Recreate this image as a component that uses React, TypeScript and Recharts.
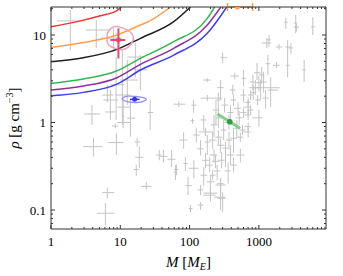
import React from 'react';
import { ComposedChart, XAxis, YAxis, Scatter, Line, ErrorBar, Label } from 'recharts';

// ---- axes ----
const massDomain: [number, number] = [1, 9300];
const rhoDomain: [number, number] = [0.0607, 20.9];
const massMajorTicks = [1, 10, 100, 1000];
const massMinorTicks = [2, 3, 4, 5, 6, 7, 8, 9, 20, 30, 40, 50, 60, 70, 80, 90, 200, 300, 400, 500, 600, 700, 800, 900, 2000, 3000, 4000, 5000, 6000, 7000, 8000, 9000];
const rhoMajorTicks = [0.1, 1, 10];
const rhoMinorTicks = [0.07, 0.08, 0.09, 0.2, 0.3, 0.4, 0.5, 0.6, 0.7, 0.8, 0.9, 2, 3, 4, 5, 6, 7, 8, 9, 20];

// ---- composition curves (mass, density) ----
const redMass = [1, 2.94, 5, 8.96, 10.3];
const redRho = [12.4, 14.8, 16.5, 19.0, 20.9];
const orangeMass = [1, 2.94, 8.96, 19.5, 27.2, 53];
const orangeRho = [7.2, 8.2, 10, 13.0, 14.6, 20.9];
const blackMass = [1, 2.94, 8.96, 19.5, 59, 103];
const blackRho = [4.95, 5.5, 6.85, 9.17, 14.2, 20.9];
const greenMass = [1, 2.94, 8.96, 19.5, 59, 180, 230];
const greenRho = [2.8, 3.14, 3.9, 5.41, 8.38, 15.5, 20.9];
const purpleMass = [1, 2.94, 8.96, 19.5, 59, 180, 282];
const purpleRho = [2.35, 2.61, 3.25, 4.62, 7.05, 13.0, 20.9];
const blueMass = [1, 2.94, 8.96, 19.5, 59, 180, 344];
const blueRho = [2.02, 2.21, 2.75, 3.98, 5.9, 10.45, 20.9];

// ---- known planets: [M, Mlo, Mhi, rho, rhoLo, rhoHi] ----
const grayPoints: [number, number, number, number, number, number][] = [
  [1.9, 1.22, 3.1, 14.5, 6.7, 19.3],
  [4.5, 3.2, 7.2, 11.4, 7.1, 14.8],
  [8.0, 5.1, 10.7, 9.2, 6.4, 12],
  [8.7, 7.2, 11.4, 2.7, 1.07, 5.6],
  [10.7, 8.5, 14, 2.06, 0.94, 6.7],
  [12.6, 10, 18, 3.06, 1.58, 5.2],
  [16.5, 12.6, 21.6, 5.6, 3.3, 8.1],
  [19.5, 15.5, 24.6, 4.0, 2.35, 5.9],
  [6.5, 5.5, 7.9, 2.06, 1.7, 2.7],
  [7.2, 5.7, 9.3, 1.81, 1.39, 2.35],
  [11, 9.1, 14, 1.5, 1.13, 1.9],
  [3.9, 3.0, 5.1, 1.25, 0.94, 1.58],
  [7.2, 6.1, 8.5, 1.32, 1.07, 1.58],
  [8.5, 7.6, 9.3, 0.91, 0.86, 0.97],
  [11, 9.1, 14, 1.0, 0.86, 1.22],
  [14, 12.6, 16.5, 1.12, 0.69, 1.81],
  [4.1, 2.9, 5.5, 0.53, 0.41, 0.67],
  [8.8, 6.7, 11, 0.59, 0.425, 0.75],
  [17.5, 16, 19.5, 0.6, 0.53, 0.67],
  [18.8, 16.5, 21.6, 0.4, 0.3, 0.53],
  [17, 15.5, 18.8, 0.29, 0.245, 0.33],
  [23.7, 20, 28, 0.186, 0.17, 0.21],
  [6.5, 5.5, 8.2, 0.158, 0.135, 0.18],
  [6.1, 4.6, 8.2, 0.092, 0.067, 0.12],
  [27, 25, 30, 1.3, 0.82, 1.81],
  [36.5, 33, 40, 0.425, 0.37, 0.485],
  [42, 38, 48, 0.41, 0.35, 0.485],
  [55, 48, 62.5, 0.38, 0.31, 0.485],
  [62.5, 59, 66, 0.27, 0.22, 0.326],
  [70, 59, 87, 1.62, 1.5, 1.75],
  [114, 106, 126, 1.58, 1.3, 1.81],
  [110, 103, 117, 1.05, 0.97, 1.12],
  [82, 71, 93, 0.63, 0.5, 0.77],
  [87, 81, 93, 0.34, 0.28, 0.4],
  [65, 60, 69, 0.29, 0.25, 0.33],
  [95, 87, 108, 0.19, 0.148, 0.24],
  [103, 97, 110, 0.104, 0.095, 0.114],
  [144, 131, 158, 0.114, 0.1, 0.123],
  [200, 158, 237, 0.148, 0.125, 0.173],
  [280, 250, 330, 0.136, 0.1, 0.169],
  [280, 250, 310, 0.2, 0.175, 0.233],
  [300, 280, 350, 5.5, 4.8, 6.3],
  [450, 390, 520, 3.4, 3.1, 3.7],
  [180, 158, 205, 3.06, 2.9, 3.2],
  [600, 560, 660, 3.2, 2.6, 4.0],
  [820, 740, 900, 2.9, 2.35, 3.5],
  [1000, 900, 1100, 2.85, 2.25, 3.4],
  [1060, 720, 2000, 2.5, 1.8, 3.1],
  [420, 380, 460, 2.35, 2.06, 2.7],
  [280, 250, 310, 2.5, 1.81, 3.06],
  [180, 144, 290, 1.9, 1.75, 2.06],
  [260, 245, 280, 1.81, 1.39, 2.2],
  [700, 600, 760, 1.5, 1.22, 1.81],
  [1400, 1300, 1480, 8.8, 7.3, 10],
  [1300, 1100, 1480, 8.1, 7.1, 9.2],
  [2450, 2300, 2600, 14, 11.8, 15.7],
  [3400, 3200, 3600, 13.7, 10.5, 17],
  [3500, 3200, 3800, 12.3, 11, 13.3],
  [6000, 5600, 6400, 12.4, 10, 16],
  [1950, 1750, 2200, 7.3, 6.8, 7.9],
  [2600, 2400, 2850, 7.3, 5.9, 8.8],
  [2900, 2700, 3100, 7.1, 6.1, 8.1],
  [1800, 1600, 2000, 4.5, 4.2, 4.9],
  [2600, 2450, 2750, 4.5, 3.3, 6.2],
  [1350, 1250, 1450, 4.7, 3.5, 5.9],
  [4500, 4200, 4750, 4.0, 2.9, 5.2],
  [940, 850, 1060, 3.7, 3.06, 4.8],
  [1100, 1000, 1200, 3.5, 2.8, 4.3],
  [1480, 1350, 1900, 2.35, 1.5, 3.3],
  [960, 880, 1060, 1.81, 1.58, 2.06],
  [700, 620, 760, 1.7, 1.5, 1.9],
  [760, 690, 840, 1.39, 1.22, 1.58],
  [1000, 800, 1130, 1.13, 0.9, 1.39],
  [600, 540, 660, 1.3, 1.13, 1.45],
  [700, 620, 760, 0.9, 0.8, 1.0],
  [580, 520, 640, 0.82, 0.72, 0.94],
  [540, 490, 600, 0.68, 0.6, 0.77],
  [160, 144, 176, 1.07, 0.8, 1.22],
  [170, 135, 215, 0.78, 0.7, 0.87],
  [180, 165, 200, 0.6, 0.425, 0.72],
  [144, 128, 160, 0.5, 0.42, 0.63],
  [225, 200, 250, 0.94, 0.68, 1.22],
  [260, 235, 300, 0.68, 0.55, 0.82],
  [310, 280, 340, 0.82, 0.63, 1.07],
  [330, 300, 360, 0.51, 0.31, 0.6],
  [225, 195, 250, 0.425, 0.35, 0.5],
  [195, 170, 215, 0.326, 0.27, 0.4],
  [160, 144, 180, 0.25, 0.19, 0.31],
  [215, 195, 237, 0.25, 0.22, 0.29],
  [115, 97, 135, 0.3, 0.23, 0.37],
  [144, 130, 158, 0.17, 0.148, 0.193],
  [200, 158, 250, 0.156, 0.14, 0.17],
  [300, 225, 330, 0.14, 0.095, 0.16],
  [280, 237, 330, 0.193, 0.13, 0.23],
  [390, 350, 430, 1.3, 1.0, 1.58],
  [520, 460, 580, 1.13, 0.94, 1.35],
  [430, 390, 480, 0.66, 0.45, 0.86],
  [700, 600, 760, 0.78, 0.68, 0.88],
  [390, 340, 440, 0.425, 0.326, 0.55],
  [360, 320, 390, 0.28, 0.2, 0.35],
  [430, 390, 480, 0.326, 0.27, 0.4],
  [250, 225, 280, 0.28, 0.22, 0.326],
  [280, 250, 320, 0.55, 0.45, 0.66],
  [200, 175, 230, 0.21, 0.17, 0.25],
  [540, 470, 620, 0.425, 0.35, 0.5],
  [700, 620, 760, 1.22, 1.07, 1.39],
  [240, 215, 270, 1.39, 0.94, 1.81],
  [370, 320, 410, 1.0, 0.82, 1.22],
  [480, 420, 540, 0.86, 0.66, 1.07],
  [260, 237, 290, 1.13, 0.86, 1.39],
  [600, 540, 660, 2.06, 1.7, 2.4],
  [830, 760, 920, 2.2, 1.81, 2.68],
  [1170, 1060, 1300, 2.9, 2.2, 3.8],
  [890, 760, 1060, 2.5, 2.06, 3.06],
  [1250, 1130, 1380, 1.9, 1.45, 2.35],
  [760, 700, 820, 2.06, 1.81, 2.35],
  [370, 330, 410, 0.63, 0.485, 0.78],
  [215, 190, 245, 0.63, 0.5, 0.78],
  [125, 112, 140, 0.72, 0.59, 0.87],
  [170, 150, 190, 0.37, 0.3, 0.45],
  [237, 210, 270, 0.36, 0.3, 0.43],
  [290, 260, 320, 0.37, 0.3, 0.46],
  [500, 440, 550, 1.45, 1.2, 1.7],
  [320, 290, 360, 1.58, 1.3, 1.9],
  [430, 390, 470, 1.81, 1.55, 2.06],
];

// ---- highlighted planets ----
const pinkPlanet = [{ m: 9.4, mlo: 7.2, mhi: 11.8, r: 8.77, rlo: 5.4, rhi: 11.9 }];
const pinkContourMass = [6.42, 7.16, 8.47, 10.6, 12.5, 14.0, 16.0, 14.8, 13.2, 11.8, 10.0, 8.47, 7.16, 6.42, 6.42];
const pinkContourRho = [10.45, 11.9, 12.7, 12.2, 11.4, 10.9, 9.56, 8.04, 7.35, 6.87, 6.74, 7.05, 7.35, 8.04, 9.17];
const bluePlanet = [{ m: 16.1, mlo: 13.8, mhi: 19.0, r: 1.84, rlo: 1.76, rhi: 1.92 }];
const blueContourMass = [10.6, 13.1, 16.5, 20.8, 25.5, 20.8, 16.5, 13.1, 10.6];
const blueContourRho = [1.95, 2.02, 1.99, 1.95, 1.85, 1.72, 1.67, 1.71, 1.8];
const greenPlanet = [{ m: 380, r: 1.02 }];
const greenBandMass = [252, 536];
const greenBandRho = [1.25, 0.86];
const orangePlanet = [{ m: 490, mlo: 353, mhi: 811, r: 20.9 }];

const series = (m: number[], r: number[]) => m.map((v, i) => ({ m: v, r: r[i] }));
const grayTable = grayPoints.map(([m, mlo, mhi, r, rlo, rhi]) => ({ m, r, ex: [m - mlo, mhi - m], ey: [r - rlo, rhi - r] }));
const withErr = (arr: any[]) => arr.map((d) => ({ ...d, ex: [d.m - (d.mlo ?? d.m), (d.mhi ?? d.m) - d.m], ey: [d.r - (d.rlo ?? d.r), (d.rhi ?? d.r) - d.r] }));

const FONT = 'Liberation Serif';
const blank = () => '';
const NoShape = () => <g />;
const dot = (color: string, rad: number) => (p: any) => <circle cx={p.cx} cy={p.cy} r={rad} fill={color} />;

const renderXLabel = (props: any) => {
  const vb = props.viewBox;
  return (
    <text x={vb.x + vb.width / 2} y={vb.y + 38} textAnchor="middle" fontFamily={FONT} fontSize={15} fill="#000">
      <tspan fontStyle="italic">M</tspan>
      <tspan> [</tspan>
      <tspan fontStyle="italic">M</tspan>
      <tspan fontStyle="italic" fontSize={10} dy={3}>E</tspan>
      <tspan dy={-3}>]</tspan>
    </text>
  );
};

const renderYLabel = (props: any) => {
  const vb = props.viewBox;
  const cx = 18.5;
  const cy = vb.y + vb.height / 2;
  return (
    <text x={cx} y={cy} textAnchor="middle" fontFamily={FONT} fontSize={15} fill="#000" transform={`rotate(-90 ${cx} ${cy})`}>
      <tspan fontStyle="italic">ρ</tspan>
      <tspan> [g cm</tspan>
      <tspan fontSize={10} dy={-6}>−3</tspan>
      <tspan dy={6}>]</tspan>
    </text>
  );
};

const tickStyle = { fill: '#000', fontSize: 13, fontFamily: FONT };

export default function App() {
  const xCommon: any = { type: 'number', dataKey: 'm', scale: 'log', domain: massDomain, allowDataOverflow: true, interval: 0 };
  const yCommon: any = { type: 'number', dataKey: 'r', scale: 'log', domain: rhoDomain, allowDataOverflow: true, interval: 0 };
  const frame = '#333';
  return (
    <div style={{ position: 'absolute', left: 0, top: 0 }}>
      <ComposedChart width={343} height={276} margin={{ top: 7, right: 17, bottom: 0, left: 0 }}>
        <XAxis xAxisId="x" {...xCommon} ticks={massMajorTicks} tickLine={false} axisLine={false} tickSize={6} tickMargin={2} height={47} tick={tickStyle} label={renderXLabel} />
        <XAxis xAxisId="xb1" {...xCommon} orientation="bottom" mirror height={0.01} ticks={massMajorTicks} tickSize={4} tickFormatter={blank} stroke={frame} />
        <XAxis xAxisId="xb2" {...xCommon} orientation="bottom" mirror height={0.01} ticks={massMinorTicks} tickSize={2} tickFormatter={blank} stroke={frame} axisLine={false} />
        <XAxis xAxisId="xt1" {...xCommon} orientation="top" mirror height={0.01} ticks={massMajorTicks} tickSize={4} tickFormatter={blank} stroke={frame} />
        <XAxis xAxisId="xt2" {...xCommon} orientation="top" mirror height={0.01} ticks={massMinorTicks} tickSize={2} tickFormatter={blank} stroke={frame} axisLine={false} />
        <YAxis yAxisId="y" {...yCommon} ticks={rhoMajorTicks} tickLine={false} axisLine={false} tickSize={3} tickMargin={2} width={51} tick={tickStyle} label={renderYLabel} />
        <YAxis yAxisId="yl1" {...yCommon} orientation="left" mirror width={0.01} ticks={rhoMajorTicks} tickSize={4} tickFormatter={blank} stroke={frame} />
        <YAxis yAxisId="yl2" {...yCommon} orientation="left" mirror width={0.01} ticks={rhoMinorTicks} tickSize={2} tickFormatter={blank} stroke={frame} axisLine={false} />
        <YAxis yAxisId="yr1" {...yCommon} orientation="right" mirror width={0.01} ticks={rhoMajorTicks} tickSize={4} tickFormatter={blank} stroke={frame} />
        <YAxis yAxisId="yr2" {...yCommon} orientation="right" mirror width={0.01} ticks={rhoMinorTicks} tickSize={2} tickFormatter={blank} stroke={frame} axisLine={false} />

        <Scatter xAxisId="x" yAxisId="y" data={grayTable} dataKey="r" shape={NoShape} isAnimationActive={false}>
          <ErrorBar dataKey="ex" direction="x" width={0} stroke="#c4c4c4" strokeWidth={1} isAnimationActive={false} />
          <ErrorBar dataKey="ey" direction="y" width={0} stroke="#c4c4c4" strokeWidth={1} isAnimationActive={false} />
        </Scatter>

        <Line xAxisId="x" yAxisId="y" data={series(redMass, redRho)} dataKey="r" type="monotone" stroke="#f03236" strokeWidth={1.5} dot={false} isAnimationActive={false} />
        <Line xAxisId="x" yAxisId="y" data={series(orangeMass, orangeRho)} dataKey="r" type="monotone" stroke="#ff9e4f" strokeWidth={1.5} dot={false} isAnimationActive={false} />
        <Line xAxisId="x" yAxisId="y" data={series(blackMass, blackRho)} dataKey="r" type="monotone" stroke="#1e1e1e" strokeWidth={1.5} dot={false} isAnimationActive={false} />
        <Line xAxisId="x" yAxisId="y" data={series(greenMass, greenRho)} dataKey="r" type="monotone" stroke="#35b553" strokeWidth={1.5} dot={false} isAnimationActive={false} />
        <Line xAxisId="x" yAxisId="y" data={series(purpleMass, purpleRho)} dataKey="r" type="monotone" stroke="#922f9e" strokeWidth={1.5} dot={false} isAnimationActive={false} />
        <Line xAxisId="x" yAxisId="y" data={series(blueMass, blueRho)} dataKey="r" type="monotone" stroke="#3d3df2" strokeWidth={1.5} dot={false} isAnimationActive={false} />

        <Line xAxisId="x" yAxisId="y" data={series(pinkContourMass, pinkContourRho)} dataKey="r" type="basisClosed" stroke="#f0a3b8" strokeWidth={1.5} dot={false} isAnimationActive={false} />
        <Line xAxisId="x" yAxisId="y" data={series(blueContourMass, blueContourRho)} dataKey="r" type="basisClosed" stroke="#8f8ff5" strokeWidth={1.2} dot={false} isAnimationActive={false} />
        <Line xAxisId="x" yAxisId="y" data={series(greenBandMass, greenBandRho)} dataKey="r" type="linear" stroke="#72c477" strokeWidth={3} strokeOpacity={0.85} dot={false} isAnimationActive={false} />

        <Scatter xAxisId="x" yAxisId="y" data={withErr(pinkPlanet)} dataKey="r" shape={dot('#e44a6c', 2.5)} isAnimationActive={false}>
          <ErrorBar dataKey="ex" direction="x" width={0} stroke="#e44a6c" strokeWidth={2} isAnimationActive={false} />
          <ErrorBar dataKey="ey" direction="y" width={0} stroke="#e44a6c" strokeWidth={2} isAnimationActive={false} />
        </Scatter>
        <Scatter xAxisId="x" yAxisId="y" data={withErr(bluePlanet)} dataKey="r" shape={dot('#3636e6', 2.5)} isAnimationActive={false}>
          <ErrorBar dataKey="ex" direction="x" width={0} stroke="#3636e6" strokeWidth={1.5} isAnimationActive={false} />
          <ErrorBar dataKey="ey" direction="y" width={0} stroke="#3636e6" strokeWidth={1.5} isAnimationActive={false} />
        </Scatter>
        <Scatter xAxisId="x" yAxisId="y" data={greenPlanet} dataKey="r" shape={dot('#2e9a46', 2.8)} isAnimationActive={false} />
        <Scatter xAxisId="x" yAxisId="y" data={withErr(orangePlanet)} dataKey="r" shape={dot('#ffa040', 2.5)} isAnimationActive={false}>
          <ErrorBar dataKey="ex" direction="x" width={4} stroke="#ffa040" strokeWidth={1.5} isAnimationActive={false} />
        </Scatter>
      </ComposedChart>
    </div>
  );
}
